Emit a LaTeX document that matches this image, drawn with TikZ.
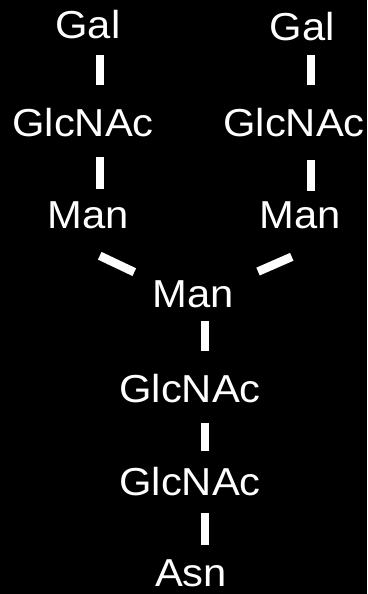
\documentclass[tikz,border=0pt]{standalone}
\usepackage{fontspec}
\setmainfont{Liberation Sans}[FakeStretch=1.07]
\usetikzlibrary{calc}

\begin{document}
\begin{tikzpicture}[x=1pt, y=-1pt,
    sugar/.style={text=white, font=\fontsize{39}{46}\selectfont,
                  inner sep=0pt, text height=28pt, text depth=0pt, anchor=base},
    bond/.style 2 args={draw=white, line width=8.5pt,
                  shorten <=#1pt, shorten >=#2pt}]

    % background
    \fill[black] (0,0) rectangle (367,594);
    \useasboundingbox (0,0) rectangle (367,594);

    % left antenna
    \node[sugar] (gall) at (88,38)  {Gal};
    \node[sugar] (glcl) at (83,136) {GlcNAc};
    \node[sugar] (manl) at (88,228) {Man};

    % right antenna
    \node[sugar] (galr) at (302,41)  {Gal};
    \node[sugar] (glcr) at (294,136) {GlcNAc};
    \node[sugar] (manr) at (300,228) {Man};

    % core
    \node[sugar] (manc) at (193,307) {Man};
    \node[sugar] (glc1) at (190,402) {GlcNAc};
    \node[sugar] (glc2) at (190,495) {GlcNAc};
    \node[sugar] (asn)  at (191,586) {Asn};

    % bond columns
    \coordinate (lcol) at (100,0);
    \coordinate (rcol) at (311,0);
    \coordinate (ccol) at (205,0);

    \draw[bond={17}{23}] (gall.south -| lcol) -- (glcl.north -| lcol);
    \draw[bond={21}{11}] (glcl.south -| lcol) -- (manl.north -| lcol);
    \draw[bond={14}{23}] (galr.south -| rcol) -- (glcr.north -| rcol);
    \draw[bond={24}{9}]  (glcr.south -| rcol) -- (manr.north -| rcol);

    \draw[bond={13}{65}] ([shift={(0,22)}]manl.south) -- ([shift={(0,-7)}]manc.base);
    \draw[bond={9}{71}]  ([shift={(0,25)}]manr.south) -- ([shift={(0,-7)}]manc.base);

    \draw[bond={14}{23}] (manc.south -| ccol) -- (glc1.north -| ccol);
    \draw[bond={21}{16}] (glc1.south -| ccol) -- (glc2.north -| ccol);
    \draw[bond={18}{13}] (glc2.south -| ccol) -- (asn.north -| ccol);
\end{tikzpicture}
\end{document}
